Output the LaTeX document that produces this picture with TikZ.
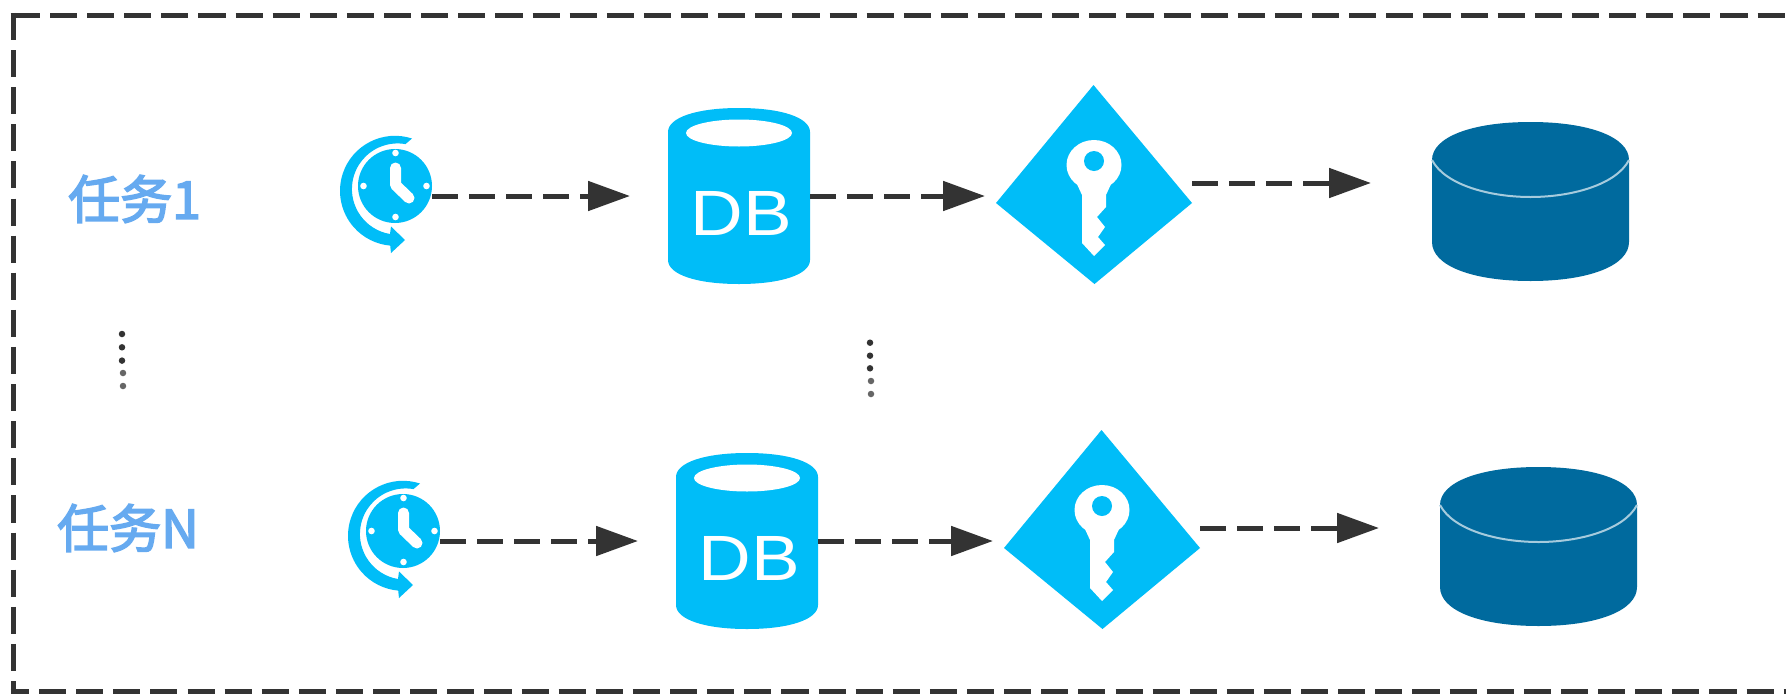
\documentclass[tikz,border=0pt]{standalone}
\usepackage{fontspec}
\setmainfont{Liberation Sans}
\newfontfamily\cjkfont[FakeBold=3]{Noto Sans CJK SC}
\usetikzlibrary{arrows.meta}
\definecolor{cy}{HTML}{00BDF8}
\definecolor{deep}{HTML}{006A9E}
\definecolor{ink}{HTML}{333333}
\definecolor{lbl}{HTML}{66AAF0}
\tikzset{
  hit/.style={inner sep=0pt,outer sep=0pt,minimum width=#1},
  link/.style={draw=ink,line width=5pt,dash pattern=on 26pt off 11pt,
     -{Triangle[length=42pt,width=29pt]}},
  frameline/.style={draw=ink,line width=5pt},
  tasklabel/.style={text=lbl,font=\cjkfont\fontsize{52pt}{52pt}\selectfont,inner sep=0pt,anchor=west},
  dotmark/.style={fill=ink,inner sep=0pt,minimum size=6.5pt,circle},
  dotfaint/.style={fill=ink!75,inner sep=0pt,minimum size=6.5pt,circle},
}
% cylinder: #1 colour, #2 left x, #3 right x, #4 top y, #5 upper side y, #6 lower side y, #7 bottom y
\newcommand{\drum}[7]{%
  \pgfmathsetmacro{\mx}{(#2+#3)/2}%
  \pgfmathsetmacro{\cxa}{#2+(\mx-#2)*0.40}%
  \pgfmathsetmacro{\cxb}{#3-(\mx-#2)*0.40}%
  \pgfmathsetmacro{\cya}{#5-(#5-#4)*0.60}%
  \pgfmathsetmacro{\cyb}{#6+(#7-#6)*0.60}%
  \fill[#1] (#2,#5) -- (#2,#6) .. controls (#2,\cyb) and (\cxa,#7) .. (\mx,#7)
     .. controls (\cxb,#7) and (#3,\cyb) .. (#3,#6) -- (#3,#5)
     .. controls (#3,\cya) and (\cxb,#4) .. (\mx,#4)
     .. controls (\cxa,#4) and (#2,\cya) .. (#2,#5) -- cycle;}
\newcommand{\taskrow}[3]{%
\begin{scope}[shift={(#2,#3)}]
  % clock
  \node[hit=92pt,minimum height=122pt] (clock#1) at (386,196) {};
  \fill[cy] (395,186) circle[radius=37pt];
  \fill[cy] (412,138.5) arc[start angle=72,end angle=265,radius=55pt]
     -- (391,253) -- (405,240) -- (391,226.5) -- (390,234)
     arc[start angle=260.5,end angle=80,radius=45.6pt] -- cycle;
  \draw[white,line width=11pt,line cap=round,line join=round] (395.5,168) -- (395.5,185) -- (409,198);
  \fill[white] (395.5,153) circle[radius=3.3pt] (426.5,186) circle[radius=3.3pt]
     (395.5,217) circle[radius=3.3pt] (363.5,186) circle[radius=3.3pt];
  % database
  \node[hit=142pt,minimum height=176pt] (db#1) at (739,196) {};
  \drum{cy}{668}{810}{108}{132}{260}{284}
  \fill[white] (739,133) ellipse[x radius=53pt,y radius=13.5pt];
  \node[inner sep=0pt,text=white,xscale=1.14,font=\fontsize{64pt}{64pt}\selectfont] (dbtext#1) at (741,213) {DB};
  % key
  \node[hit=196pt,minimum height=196pt] (key#1) at (1094,183) {};
  \fill[cy] (1093.5,85) -- (1192,203) -- (1094.5,284) -- (996,203) -- cycle;
  \fill[white] (1094,165) ellipse[x radius=27.5pt,y radius=25pt];
  \fill[white] (1076,182) -- (1082,195) -- (1082,243) -- (1094,256) -- (1105,245) -- (1098,237) -- (1105,227)
     -- (1097,217) -- (1106,207) -- (1106,195) -- (1112,182) -- cycle;
  \fill[cy] (1094,161) ellipse[x radius=10pt,y radius=10pt];
  % storage
  \node[hit=197pt,minimum height=196pt] (store#1) at (1530.5,183) {};
  \drum{deep}{1432}{1629}{122}{160}{242}{281}
  \draw[white!65!deep,line width=2pt] (1432,160) .. controls (1445,185) and (1490,197) .. (1530.5,197)
     .. controls (1571,197) and (1616,185) .. (1629,160);
  % connectors
  \draw[link,shorten >=38pt] (clock#1.east) -- (db#1.west);
  \draw[link] (db#1.east) -- ([xshift=-11pt]key#1.west |- db#1.east);
  \draw[link,shorten >=61pt] (key#1.east) -- (store#1.west);
\end{scope}}
\begin{document}
\begin{tikzpicture}[x=1pt,y=-1pt]
  \useasboundingbox (0,0) rectangle (1786,694);
  \fill[white] (0,0) rectangle (1786,694);
  % frame
  \coordinate (ftl) at (10.5,15);
  \coordinate (ftr) at (1786,15);
  \coordinate (fl0) at (13,12.5);
  \coordinate (fl1) at (13,694);
  \coordinate (fb0) at (10.5,691.5);
  \coordinate (fb1) at (1786,691.5);
  \draw[frameline,dash pattern=on 29.5pt off 10pt] (ftl) -- ++(29.5,0);
  \draw[frameline,dash pattern=on 27.1pt off 10.02pt] ([xshift=39.5pt]ftl) -- (ftr);
  \draw[frameline,dash pattern=on 27.1pt off 10.02pt,dash phase=-0.4pt] (fl0) -- (fl1);
  \draw[frameline,dash pattern=on 27.1pt off 10.02pt,dash phase=8.6pt] (fb0) -- (fb1);
  \taskrow{A}{0}{0}
  \taskrow{B}{8}{345}
  \node[tasklabel] (task1) at (68,199) {任务1};
  \node[tasklabel] (taskN) at (57,528) {任务N};
  \foreach \n/\y in {1/334,2/347.3,3/360.6} \node[dotmark] (ldot\n) at (122,\y) {};
  \foreach \n/\y in {4/373,5/386} \node[dotfaint] (ldot\n) at (123,\y) {};
  \foreach \n/\y in {1/342.7,2/355.7,3/368.3} \node[dotmark] (rdot\n) at (870,\y) {};
  \foreach \n/\y in {4/381,5/394} \node[dotfaint] (rdot\n) at (871,\y) {};
\end{tikzpicture}
\end{document}
